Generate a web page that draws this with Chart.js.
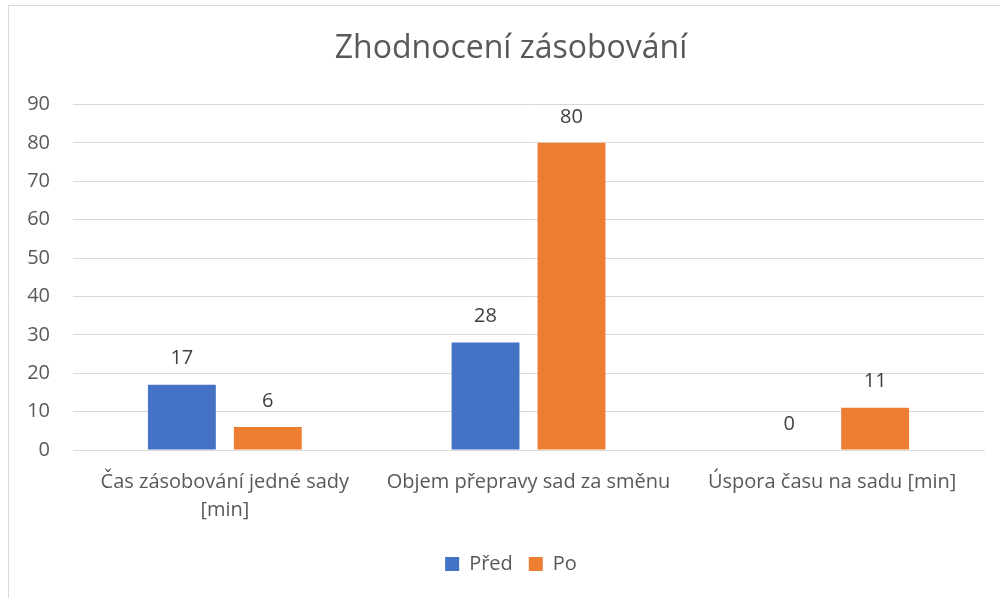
<!DOCTYPE html>
<html>
<head>
<meta charset="utf-8">
<script src="https://cdn.jsdelivr.net/npm/chart.js@4.4.1/dist/chart.umd.min.js"></script>
<style>
  html, body { margin: 0; padding: 0; background: #fff; }
  #wrap { position: relative; width: 1000px; height: 598px; }
  canvas { display: block; }
</style>
</head>
<body>
<div id="wrap"><canvas id="c" width="1000" height="598"></canvas></div>
<script>
const title = "Zhodnocení zásobování";
const categories = [["Čas zásobování jedné sady", "[min]"], "Objem přepravy sad za směnu", "Úspora času na sadu [min]"];
const seriesNames = ["Před", "Po"];
const predValues = [17, 28, 0];
const poValues = [6, 80, 11];
const yTicks = [0, 10, 20, 30, 40, 50, 60, 70, 80, 90];

const FONT = "'Open Sans', sans-serif";
const TEXT = "#595959";
const GRID = "#d9d9d9";

const borderPlugin = {
  id: 'border',
  beforeDraw(chart) {
    const ctx = chart.ctx;
    ctx.save();
    ctx.fillStyle = '#fff';
    ctx.fillRect(0, 0, chart.width, chart.height);
    ctx.strokeStyle = GRID;
    ctx.lineWidth = 1;
    ctx.beginPath();
    ctx.moveTo(8.5, chart.height + 2);
    ctx.lineTo(8.5, 5.5);
    ctx.lineTo(chart.width + 2, 5.5);
    ctx.stroke();
    ctx.restore();
  }
};

// widen the y-axis label clip area to the canvas edge
const axisWidenPlugin = {
  id: 'axisWiden',
  afterLayout(chart) {
    chart.scales.y.left = 0;
  }
};

const labelPlugin = {
  id: 'valueLabels',
  afterDatasetsDraw(chart) {
    const ctx = chart.ctx;
    ctx.save();
    ctx.font = "20px " + FONT;
    ctx.fillStyle = "#404040";
    ctx.textAlign = 'center';
    ctx.textBaseline = 'middle';
    chart.data.datasets.forEach((ds, i) => {
      const meta = chart.getDatasetMeta(i);
      meta.data.forEach((bar, j) => {
        ctx.fillText(String(ds.data[j]), bar.x, bar.y - 26);
      });
    });
    ctx.restore();
  }
};

new Chart(document.getElementById('c'), {
  type: 'bar',
  data: {
    labels: categories,
    datasets: [
      { label: seriesNames[0], data: predValues, backgroundColor: '#4472C4' },
      { label: seriesNames[1], data: poValues, backgroundColor: '#ED7D31' }
    ]
  },
  options: {
    responsive: false,
    animation: false,
    devicePixelRatio: 1,
    layout: { padding: { left: 38, right: 16, top: 0, bottom: 14 } },
    datasets: { bar: { categoryPercentage: 0.566, barPercentage: 0.79 } },
    plugins: {
      title: {
        display: true, text: title, color: TEXT,
        font: { family: FONT, size: 32, weight: 'normal' },
        padding: { top: 30, bottom: 36 }
      },
      legend: {
        position: 'bottom',
        labels: {
          color: TEXT, font: { family: FONT, size: 20 },
          boxWidth: 14, boxHeight: 14, padding: 16
        }
      },
      tooltip: { enabled: false }
    },
    scales: {
      x: {
        grid: { display: false, drawTicks: false },
        border: { color: GRID },
        ticks: { color: TEXT, font: { family: FONT, size: 20, lineHeight: 1.4 }, padding: 18, maxRotation: 0, autoSkip: false },
        afterFit(s) { s.height = 88; }
      },
      y: {
        min: 0, max: 90,
        afterBuildTicks(s) { s.ticks = yTicks.map(v => ({ value: v })); },
        grid: { color: GRID, drawTicks: false },
        border: { display: false },
        ticks: { color: TEXT, font: { family: FONT, size: 20 }, padding: 23 },
        afterFit(s) { s.width = 35; }
      }
    }
  },
  plugins: [borderPlugin, axisWidenPlugin, labelPlugin]
});
</script>
</body>
</html>
